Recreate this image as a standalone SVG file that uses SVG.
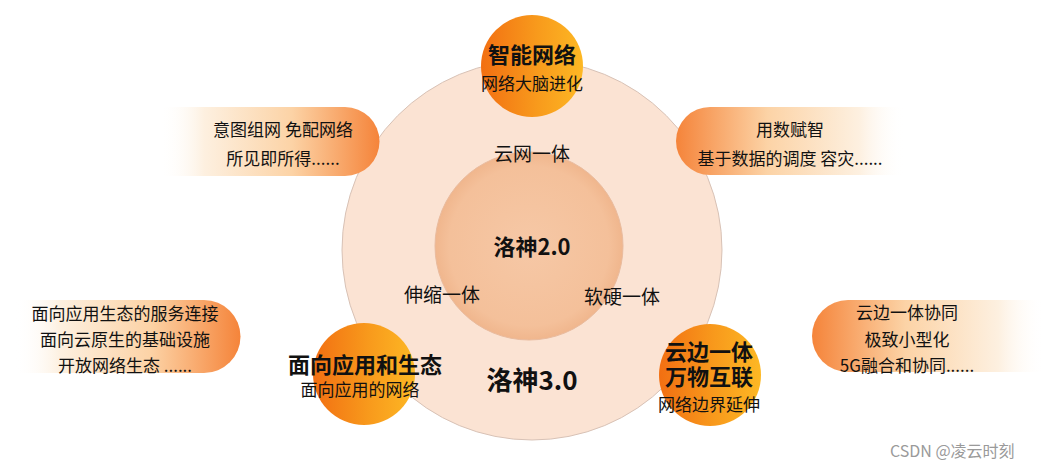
<svg xmlns="http://www.w3.org/2000/svg" width="1054" height="467" viewBox="0 0 1054 467">
<defs>
<style>
text{font-family:"Noto Sans CJK SC","Noto Sans",sans-serif;fill:#111;text-anchor:middle;dominant-baseline:central}
.s{font-size:17px}
.m{font-size:19px}
.b{font-size:22px;font-weight:bold}
.nb{font-size:17px;font-weight:normal}
.big{font-size:26px;font-weight:bold}
.wm{font-size:16px;fill:#9a9a9a;text-anchor:start}
</style>
<linearGradient id="ball" x1="0" y1="0" x2="1" y2="0">
<stop offset="0" stop-color="#f26f12"/>
<stop offset="0.55" stop-color="#f89a1c"/>
<stop offset="1" stop-color="#fdb824"/>
</linearGradient>
<linearGradient id="pillR" x1="0" y1="0" x2="1" y2="0">
<stop offset="0" stop-color="#ffffff" stop-opacity="0"/>
<stop offset="0.2" stop-color="#fdf0e0"/>
<stop offset="0.6" stop-color="#fcd3a6"/>
<stop offset="1" stop-color="#f5843a"/>
</linearGradient>
<linearGradient id="pillL" x1="1" y1="0" x2="0" y2="0">
<stop offset="0" stop-color="#ffffff" stop-opacity="0"/>
<stop offset="0.2" stop-color="#fdf0e0"/>
<stop offset="0.6" stop-color="#fcd3a6"/>
<stop offset="1" stop-color="#f5843a"/>
</linearGradient>
<radialGradient id="inner" cx="0.5" cy="0.5" r="0.5">
<stop offset="0" stop-color="#f6c8a6"/>
<stop offset="0.85" stop-color="#f4c09a"/>
<stop offset="1" stop-color="#f0b68d"/>
</radialGradient>
</defs>

<g id="outer">
<circle cx="532" cy="250" r="190" fill="#fbe3d3" stroke="#d8c2b6" stroke-width="1"/>
<text class="big" x="532" y="378">洛神3.0</text>
</g>

<g id="inner-core">
<circle cx="529" cy="246" r="94" fill="url(#inner)" stroke="#e9bb9e" stroke-width="1"/>
<text class="b" x="532" y="245">洛神2.0</text>
</g>

<g id="labels">
<text class="m" x="532" y="152">云网一体</text>
<text class="m" x="442" y="293">伸缩一体</text>
<text class="m" x="622" y="295">软硬一体</text>
</g>

<g id="pill-tl">
<path d="M160 107 H345 A34.5 34.5 0 0 1 345 176 H160 Z" fill="url(#pillR)"/>
<text class="s" x="283" y="128">意图组网 免配网络<tspan x="283" dy="29">所见即所得......</tspan></text>
</g>

<g id="pill-tr">
<path d="M710 107 H905 V175 H710 A34 34 0 0 1 710 107 Z" fill="url(#pillL)"/>
<text class="s" x="790" y="128">用数赋智<tspan x="790" dy="29">基于数据的调度 容灾......</tspan></text>
</g>

<g id="pill-bl">
<path d="M15 300 H204 A36.5 36.5 0 0 1 204 373 H15 Z" fill="url(#pillR)"/>
<text class="s" x="125" y="312">面向应用生态的服务连接<tspan x="125" dy="26">面向云原生的基础设施</tspan><tspan x="125" dy="26">开放网络生态 ......</tspan></text>
</g>

<g id="pill-br">
<path d="M848 300 H1045 V372 H848 A36 36 0 0 1 848 300 Z" fill="url(#pillL)"/>
<text class="s" x="907" y="311">云边一体协同<tspan x="907" dy="27">极致小型化</tspan><tspan x="907" dy="26">5G融合和协同......</tspan></text>
</g>

<g id="node-top">
<circle cx="532" cy="66" r="51" fill="url(#ball)"/>
<text class="b" x="532" y="53">智能网络<tspan class="nb" x="532" dy="29">网络大脑进化</tspan></text>
</g>

<g id="node-bl">
<circle cx="364" cy="374" r="51" fill="url(#ball)"/>
<text class="b" x="365" y="363">面向应用和生态<tspan class="nb" x="360" dy="25">面向应用的网络</tspan></text>
</g>

<g id="node-br">
<circle cx="710" cy="375" r="51" fill="url(#ball)"/>
<text class="b" x="709" y="350">云边一体<tspan x="709" dy="25">万物互联</tspan><tspan class="nb" x="709" dy="28">网络边界延伸</tspan></text>
</g>

<g id="connectors"></g>

<text class="wm" x="890" y="450">CSDN @凌云时刻</text>
</svg>
